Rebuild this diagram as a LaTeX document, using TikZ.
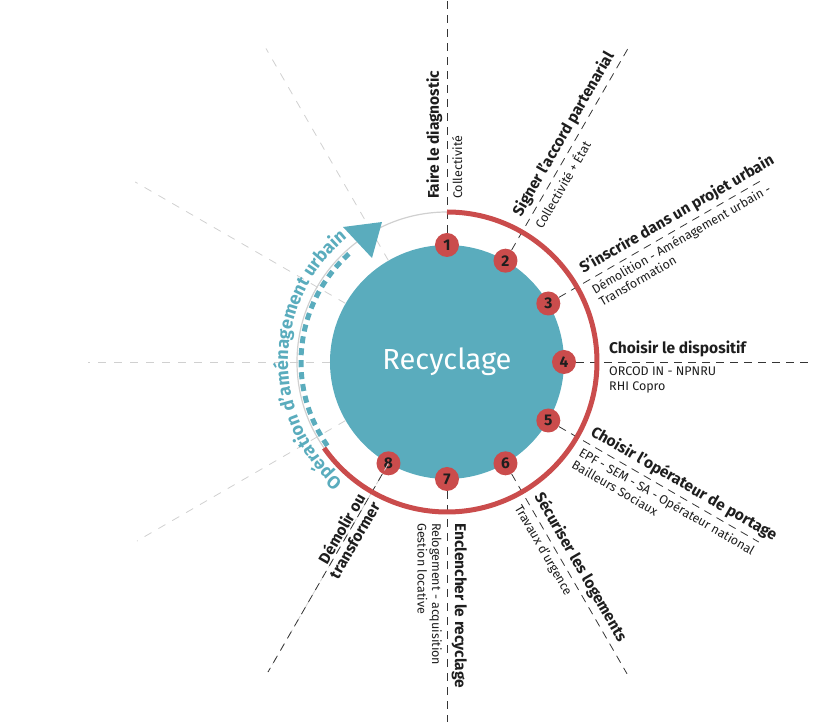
\documentclass[tikz,border=0pt]{standalone}
\usepackage{fontspec}
\setmainfont{Fira Sans}
\usetikzlibrary{decorations.text}

\definecolor{bleu}{RGB}{90,172,189}
\definecolor{rouge}{RGB}{202,76,76}
\definecolor{gris}{RGB}{208,208,208}
\definecolor{encre}{RGB}{30,30,30}

\tikzset{
	numero/.style={circle, fill=rouge, minimum size=24pt, inner sep=0pt, text=encre, font=\bfseries\fontsize{15.5}{15.5}\selectfont},
	etape/.style={encre!90, line width=0.8pt, dash pattern=on 8pt off 6pt},
	rayon/.style={gris, line width=0.8pt, dash pattern=on 8pt off 8pt},
	titre/.style={text=encre, inner xsep=0pt, inner ysep=4.5pt, font=\bfseries\fontsize{15.5}{17}\selectfont},
	detail/.style={text=encre, inner xsep=0pt, inner ysep=5pt, align=left, font=\fontsize{12.5}{14.5}\selectfont},
}

\begin{document}
\begin{tikzpicture}[x=1pt, y=1pt]
	\useasboundingbox (-447,-360) rectangle (376,362);

	% Центральный круг
	\node[circle, fill=bleu, minimum size=234pt, inner sep=0pt, text=white, font=\fontsize{29}{29}\selectfont] (recyclage) at (0,0) {Recyclage};

	% Номера этапов
	\node[numero] (n1) at (90:117) {1};
	\node[numero] (n2) at (60:117) {2};
	\node[numero] (n3) at (30:117) {3};
	\node[numero] (n4) at (0:117) {4};
	\node[numero] (n5) at (-30:117) {5};
	\node[numero] (n6) at (-60:117) {6};
	\node[numero] (n7) at (-90:117) {7};
	\node[numero] (n8) at (-120:117) {8};

	% Концы лучей
	\coordinate (e1) at (90:362);
	\coordinate (e2) at (60:362);
	\coordinate (e3) at (30:362);
	\coordinate (e4) at (0:365);
	\coordinate (e5) at (-30:360);
	\coordinate (e6) at (-60:360);
	\coordinate (e7) at (-90:360);
	\coordinate (e8) at (-120:358);
	\coordinate (g1) at (120:362);
	\coordinate (g2) at (150:360);
	\coordinate (g3) at (180:359);
	\coordinate (g4) at (210:358);
	\coordinate (g5) at (240:358);

	% Серое кольцо и серые лучи
	\draw[gris, line width=1.2pt] (recyclage.center) circle[radius=150pt];
	\draw[rayon] (recyclage) -- (g1);
	\draw[rayon] (recyclage) -- (g2);
	\draw[rayon] (recyclage) -- (g3);
	\draw[rayon] (recyclage) -- (g4);
	\draw[rayon] (recyclage) -- (g5);

	% Пунктир этапов
	\draw[etape] (n1) -- (e1);
	\draw[etape] (n2) -- (e2);
	\draw[etape] (n3) -- (e3);
	\draw[etape] (n4) -- (e4);
	\draw[etape] (n5) -- (e5);
	\draw[etape] (n6) -- (e6);
	\draw[etape] (n7) -- (e7);
	\draw[etape] (n8) -- (e8);

	% Красная дуга
	\draw[rouge, line width=5pt] (90:150) arc[start angle=90, end angle=-145, radius=150pt];

	% Бирюзовая стрелка
	\draw[bleu, line width=5pt, dash pattern=on 7pt off 5pt] (215:146) arc[start angle=215, end angle=131, radius=146pt];
	\fill[bleu] (-104,135) -- (-65,140) -- (-75,104) -- cycle;
	\path[decorate, decoration={text along path, text align=left, text={|\color{bleu}\bfseries\fontsize{18}{18}\selectfont|Opération d’aménagement urbain}}] (229:159) arc[start angle=229, end angle=120, radius=159pt];

	% Подписи этапов
	\node[titre, rotate=90, anchor=south west] (t1) at (90:163) {Faire le diagnostic};
	\node[detail, rotate=90, anchor=north west] (d1) at (90:163) {Collectivité};
	\node[titre, rotate=60, anchor=south west] (t2) at (60:162) {Signer l’accord partenarial};
	\node[detail, rotate=60, anchor=north west] (d2) at (60:162) {Collectivité + État};
	\node[titre, rotate=30, anchor=south west] (t3) at (30:162) {S’inscrire dans un projet urbain};
	\node[detail, rotate=30, anchor=north west] (d3) at (30:162) {Démolition - Aménagement urbain -\\Transformation};
	\node[titre, anchor=south west] (t4) at (0:162) {Choisir le dispositif};
	\node[detail, anchor=north west] (d4) at (0:162) {ORCOD IN - NPNRU\\RHI Copro};
	\node[titre, rotate=-30, anchor=south west] (t5) at (-30:160) {Choisir l’opérateur de portage};
	\node[detail, rotate=-30, anchor=north west] (d5) at (-30:160) {EPF - SEM - SA - Opérateur national\\Bailleurs Sociaux};
	\node[titre, rotate=-60, anchor=south west] (t6) at (-60:160) {Sécuriser les logements};
	\node[detail, rotate=-60, anchor=north west] (d6) at (-60:160) {Travaux d’urgence};
	\node[titre, rotate=-90, anchor=south west] (t7) at (-90:161) {Enclencher le recyclage};
	\node[detail, rotate=-90, anchor=north west] (d7) at (-90:161) {Relogement - acquisition\\Gestion locative};
	\node[titre, rotate=60, anchor=east, align=right, inner ysep=1pt] (t8) at (-120:158) {Démolir ou\\transformer};
\end{tikzpicture}
\end{document}
